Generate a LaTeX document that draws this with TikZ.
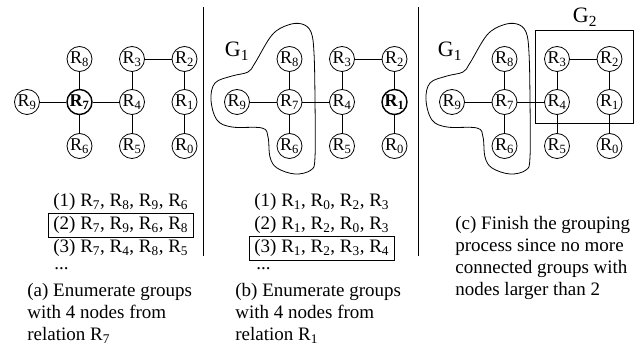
\documentclass[tikz,border=0pt]{standalone}
\usepackage{fontspec}
\setmainfont{Liberation Serif}
\newcommand{\Rn}[1]{R\textsubscript{#1}}

\begin{document}
\begin{tikzpicture}[x=1pt,y=-1pt,font=\fontsize{19}{22}\selectfont,line width=0.8pt]
	\tikzstyle{rel}=[draw, circle, minimum size=25pt, inner sep=0pt, font=\fontsize{18}{20}\selectfont]
	\tikzstyle{cur}=[rel, line width=1.4pt, font=\fontsize{18}{20}\selectfont\bfseries]
	\tikzstyle{enum}=[anchor=base west, inner sep=0pt]
	\tikzstyle{pick}=[enum, draw, inner xsep=5pt, inner ysep=3pt]
	\tikzstyle{dots}=[enum, text height=3pt]
	\tikzstyle{note}=[anchor=base west, inner sep=0pt, align=left]
	\tikzstyle{grp}=[font=\fontsize{22}{24}\selectfont, anchor=base, inner sep=0pt]
	\useasboundingbox (0,0) rectangle (643,347);

	% the relation graph, once per panel
	\foreach \p/\dx/\sa/\sb in {a/0/cur/rel, b/210/rel/cur, c/425/rel/rel}{
		\node[rel] (\p8) at (79.5+\dx,59) {\Rn{8}};
		\node[rel] (\p3) at (132+\dx,59) {\Rn{3}};
		\node[rel] (\p2) at (184.5+\dx,59) {\Rn{2}};
		\node[rel] (\p9) at (27+\dx,102) {\Rn{9}};
		\node[\sa] (\p7) at (79.5+\dx,102) {\Rn{7}};
		\node[rel] (\p4) at (132+\dx,102) {\Rn{4}};
		\node[\sb] (\p1) at (184.5+\dx,102) {\Rn{1}};
		\node[rel] (\p6) at (79.5+\dx,146) {\Rn{6}};
		\node[rel] (\p5) at (132+\dx,146) {\Rn{5}};
		\node[rel] (\p0) at (184.5+\dx,146) {\Rn{0}};
		\draw (\p9) -- (\p7) -- (\p4);
		\draw (\p8) -- (\p7) -- (\p6);
		\draw (\p3) -- (\p4) -- (\p5);
		\draw (\p3) -- (\p2) -- (\p1) -- (\p0);
	}

	% groups
	\foreach \s in {0,215}{
		\draw[xshift=\s] plot[smooth cycle, tension=0.6] coordinates {(255,63) (272,35) (288,25) (302,24) (311,32) (314,53) (315,100) (315,157) (311,170) (295,174) (277,168) (270,157) (268,137) (262,128) (232,127) (217,120) (211,100) (215,83) (232,76) (248,72)};
	}
	\node[grp] (g1b) at (237,57) {G\textsubscript{1}};
	\node[grp] (g1c) at (450,57) {G\textsubscript{1}};
	\draw (535,30) rectangle (633,123);
	\node[grp] (g2) at (585,23) {G\textsubscript{2}};

	% separators
	\draw (203,7) -- (203,256);
	\draw (418,7) -- (418,256);

	% panel (a)
	\node[enum] (a1) at (53,207) {(1) \Rn{7}, \Rn{8}, \Rn{9}, \Rn{6}};
	\node[pick] (a2) at (48,230) {(2) \Rn{7}, \Rn{9}, \Rn{6}, \Rn{8}};
	\node[enum] (a3) at (53,253) {(3) \Rn{7}, \Rn{4}, \Rn{8}, \Rn{5}};
	\node[dots] (a4) at (54,270) {...};
	\node[note] (acap) at (27,341) {(a) Enumerate groups\\with 4 nodes from\\relation \Rn{7}};

	% panel (b)
	\node[enum] (b1) at (254,207) {(1) \Rn{1}, \Rn{0}, \Rn{2}, \Rn{3}};
	\node[enum] (b2) at (254,230) {(2) \Rn{1}, \Rn{2}, \Rn{0}, \Rn{3}};
	\node[pick] (b3) at (249,253) {(3) \Rn{1}, \Rn{2}, \Rn{3}, \Rn{4}};
	\node[dots] (b4) at (256,270) {...};
	\node[note] (bcap) at (235,341) {(b) Enumerate groups\\with 4 nodes from\\relation \Rn{1}};

	% panel (c)
	\node[note] (ccap) at (455,296) {(c) Finish the grouping\\process since no more\\connected groups with\\nodes larger than 2};
\end{tikzpicture}
\end{document}
